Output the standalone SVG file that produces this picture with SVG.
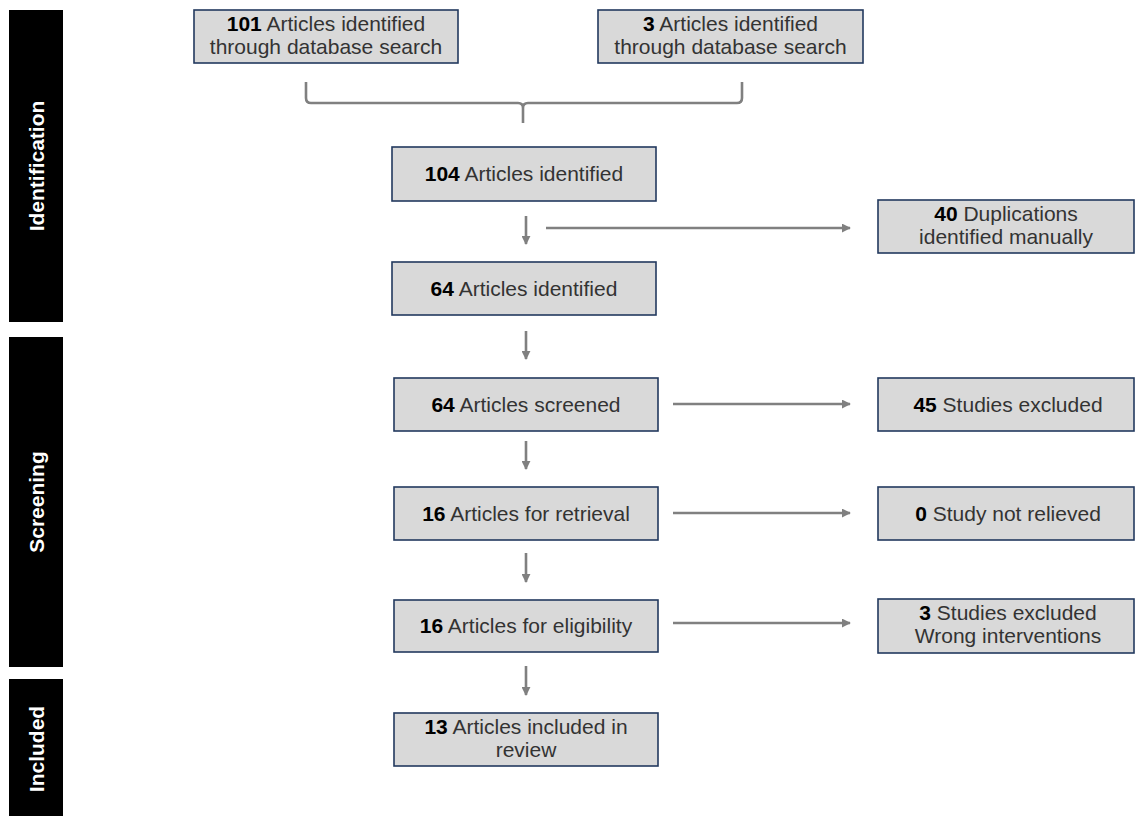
<svg xmlns="http://www.w3.org/2000/svg" width="1136" height="816" viewBox="0 0 1136 816">
<style>
.bar{fill:#000}
.bt{font-family:"Liberation Sans",Arial,sans-serif;font-weight:bold;font-size:21px;fill:#fff;text-anchor:middle}
.box{fill:#d9d9d9;stroke:#22395e;stroke-width:1.6}
.t{font-family:"Liberation Sans",Arial,sans-serif;font-size:21px;fill:#333;text-anchor:middle}
.n{font-weight:bold;fill:#000}
.c{stroke:#808080;stroke-width:2.6;fill:none}
</style>
<defs>
<marker id="ah" viewBox="0 0 10 10" refX="9" refY="5" markerWidth="9" markerHeight="9" markerUnits="userSpaceOnUse" orient="auto">
<path d="M0,0 L10,5 L0,10 z" fill="#808080"/>
</marker>
</defs>
<rect width="1136" height="816" fill="#fff"/>
<g id="phase-identification">
<rect class="bar" x="9" y="10" width="54" height="312"/>
<text class="bt" transform="translate(44,166) rotate(-90)">Identification</text>
</g>
<g id="phase-screening">
<rect class="bar" x="9" y="337" width="54" height="330"/>
<text class="bt" transform="translate(44,502) rotate(-90)">Screening</text>
</g>
<g id="phase-included">
<rect class="bar" x="9" y="679" width="54" height="137"/>
<text class="bt" transform="translate(44,749) rotate(-90)">Included</text>
</g>
<g id="connectors">
<path class="c" d="M306,82 L306,98 Q306,103 311,103 L518,103 Q523,103 523,108 L523,123 M523,108 Q523,103 528,103 L737,103 Q742,103 742,98 L742,82"/>
<line class="c" x1="526" y1="216" x2="526" y2="244" marker-end="url(#ah)"/>
<line class="c" x1="546" y1="228" x2="850" y2="228" marker-end="url(#ah)"/>
<line class="c" x1="526" y1="331" x2="526" y2="359" marker-end="url(#ah)"/>
<line class="c" x1="526" y1="441" x2="526" y2="469" marker-end="url(#ah)"/>
<line class="c" x1="526" y1="553" x2="526" y2="582" marker-end="url(#ah)"/>
<line class="c" x1="526" y1="666" x2="526" y2="695" marker-end="url(#ah)"/>
<line class="c" x1="673" y1="404" x2="850" y2="404" marker-end="url(#ah)"/>
<line class="c" x1="673" y1="513" x2="850" y2="513" marker-end="url(#ah)"/>
<line class="c" x1="673" y1="623" x2="850" y2="623" marker-end="url(#ah)"/>
</g>
<g id="n101">
<rect class="box" x="194" y="10" width="264" height="53"/>
<text class="t" x="326" y="31"><tspan class="n">101</tspan> Articles identified</text>
<text class="t" x="326" y="54">through database search</text>
</g>
<g id="n3db">
<rect class="box" x="598" y="10" width="265" height="53"/>
<text class="t" x="730.5" y="31"><tspan class="n">3</tspan> Articles identified</text>
<text class="t" x="730.5" y="54">through database search</text>
</g>
<g id="n104">
<rect class="box" x="392" y="147" width="264" height="54"/>
<text class="t" x="524" y="181"><tspan class="n">104</tspan> Articles identified</text>
</g>
<g id="n40">
<rect class="box" x="878" y="200" width="256" height="53"/>
<text class="t" x="1006" y="221"><tspan class="n">40</tspan> Duplications</text>
<text class="t" x="1006" y="244">identified manually</text>
</g>
<g id="n64id">
<rect class="box" x="392" y="262" width="264" height="53"/>
<text class="t" x="524" y="296"><tspan class="n">64</tspan> Articles identified</text>
</g>
<g id="n64sc">
<rect class="box" x="394" y="378" width="264" height="53"/>
<text class="t" x="526" y="412"><tspan class="n">64</tspan> Articles screened</text>
</g>
<g id="n45">
<rect class="box" x="878" y="378" width="256" height="53"/>
<text class="t" x="1008" y="412"><tspan class="n">45</tspan> Studies excluded</text>
</g>
<g id="n16ret">
<rect class="box" x="394" y="487" width="264" height="53"/>
<text class="t" x="526" y="521"><tspan class="n">16</tspan> Articles for retrieval</text>
</g>
<g id="n0">
<rect class="box" x="878" y="487" width="256" height="53"/>
<text class="t" x="1008" y="521"><tspan class="n">0</tspan> Study not relieved</text>
</g>
<g id="n16el">
<rect class="box" x="394" y="600" width="264" height="52"/>
<text class="t" x="526" y="633"><tspan class="n">16</tspan> Articles for eligibility</text>
</g>
<g id="n3ex">
<rect class="box" x="878" y="599" width="256" height="54"/>
<text class="t" x="1008" y="620"><tspan class="n">3</tspan> Studies excluded</text>
<text class="t" x="1008" y="643">Wrong interventions</text>
</g>
<g id="n13">
<rect class="box" x="394" y="713" width="264" height="53"/>
<text class="t" x="526" y="734"><tspan class="n">13</tspan> Articles included in</text>
<text class="t" x="526" y="757">review</text>
</g>
</svg>
